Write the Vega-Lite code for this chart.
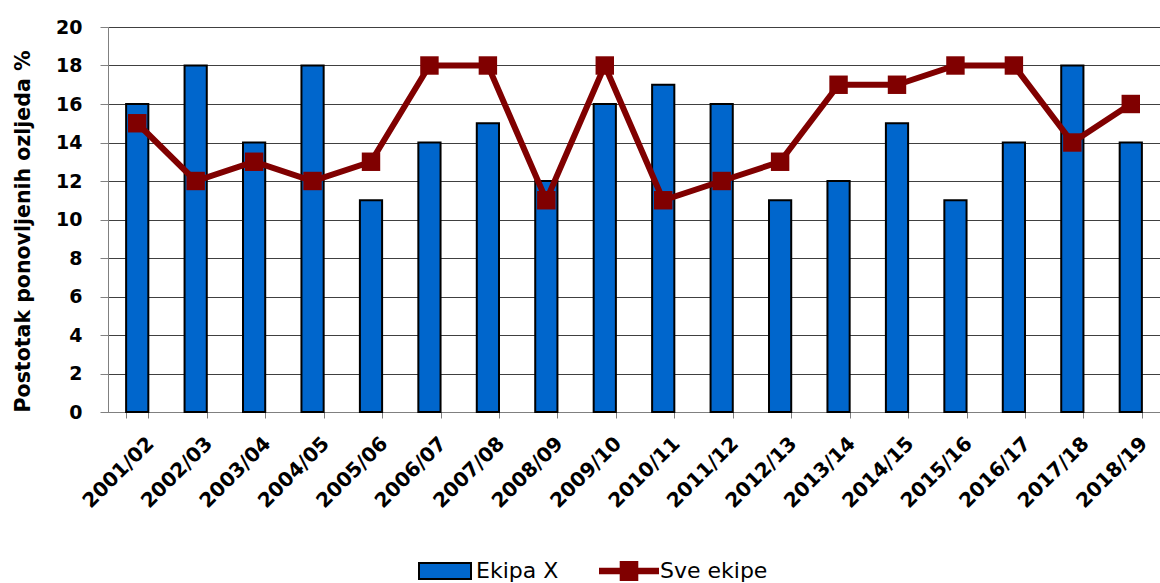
{
  "$schema": "https://vega.github.io/schema/vega-lite/v6.json",
  "width": 1052,
  "height": 385,
  "autosize": {"type": "none"},
  "padding": {"left": 108, "top": 27, "right": 0, "bottom": 171},
  "background": "white",
  "config": {"view": {"stroke": null}, "font": "DejaVu Sans"},
  "data": {
    "values": [
      {"season": "2001/02", "ekipa": 16, "sve": 15},
      {"season": "2002/03", "ekipa": 18, "sve": 12},
      {"season": "2003/04", "ekipa": 14, "sve": 13},
      {"season": "2004/05", "ekipa": 18, "sve": 12},
      {"season": "2005/06", "ekipa": 11, "sve": 13},
      {"season": "2006/07", "ekipa": 14, "sve": 18},
      {"season": "2007/08", "ekipa": 15, "sve": 18},
      {"season": "2008/09", "ekipa": 12, "sve": 11},
      {"season": "2009/10", "ekipa": 16, "sve": 18},
      {"season": "2010/11", "ekipa": 17, "sve": 11},
      {"season": "2011/12", "ekipa": 16, "sve": 12},
      {"season": "2012/13", "ekipa": 11, "sve": 13},
      {"season": "2013/14", "ekipa": 12, "sve": 17},
      {"season": "2014/15", "ekipa": 15, "sve": 17},
      {"season": "2015/16", "ekipa": 11, "sve": 18},
      {"season": "2016/17", "ekipa": 14, "sve": 18},
      {"season": "2017/18", "ekipa": 18, "sve": 14},
      {"season": "2018/19", "ekipa": 14, "sve": 16}
    ]
  },
  "encoding": {
    "x": {
      "field": "season",
      "type": "nominal",
      "sort": null,
      "scale": {"paddingInner": 0.62, "paddingOuter": 0.31},
      "axis": {
        "title": null,
        "labelAngle": -45,
        "labelFontSize": 20,
        "labelFontWeight": "bold",
        "labelColor": "black",
        "labelOverlap": false,
        "tickBand": "extent",
        "tickSize": 6,
        "tickColor": "#808080",
        "domainColor": "#808080",
        "labelPadding": 15,
        "labelOffset": 6,
        "grid": false
      }
    },
    "y": {
      "type": "quantitative",
      "scale": {"domain": [0, 20]},
      "axis": {
        "title": "Postotak ponovljenih ozljeda %",
        "values": [0, 2, 4, 6, 8, 10, 12, 14, 16, 18, 20],
        "labelOverlap": false,
        "grid": true,
        "gridColor": "#404040",
        "gridWidth": 1,
        "tickSize": 8,
        "tickColor": "#808080",
        "domainColor": "#808080",
        "labelPadding": 18,
        "labelFontSize": 19,
        "labelFontWeight": "bold",
        "labelColor": "black",
        "titleFontSize": 20.5,
        "titleFontWeight": "bold",
        "titleColor": "black",
        "titleX": -85,
        "titleY": 204,
        "titleAngle": -90,
        "titleAlign": "center",
        "titleBaseline": "middle"
      }
    }
  },
  "layer": [
    {
      "mark": {"type": "bar", "stroke": "black", "strokeWidth": 2},
      "encoding": {
        "y": {"field": "ekipa"},
        "fill": {
          "datum": "Ekipa X",
          "scale": {"range": ["#0066CC"]},
          "legend": {
            "orient": "none",
            "legendX": 310,
            "legendY": 517,
            "title": null,
            "padding": 0,
            "symbolType": "M-1,-0.31H1V0.31H-1Z",
            "symbolSize": 2704,
            "symbolStrokeColor": "black",
            "symbolStrokeWidth": 2,
            "symbolOpacity": 1,
            "labelFont": "DejaVu Sans",
            "labelFontSize": 22,
            "labelColor": "black",
            "labelOffset": 4
          }
        }
      }
    },
    {
      "mark": {"type": "line", "strokeWidth": 6},
      "encoding": {
        "y": {"field": "sve"},
        "stroke": {
          "datum": "Sve ekipe",
          "scale": {"range": ["#800000"]},
          "legend": {
            "orient": "none",
            "legendX": 491,
            "legendY": 514,
            "title": null,
            "padding": 0,
            "symbolType": "M-1,-0.11H1V0.11H-1Z M-0.31,-0.33H0.31V0.33H-0.31Z",
            "symbolSize": 3600,
            "symbolFillColor": "#800000",
            "symbolStrokeWidth": 0,
            "symbolOpacity": 1,
            "labelFont": "DejaVu Sans",
            "labelFontSize": 22,
            "labelColor": "black",
            "labelOffset": 1,
            "encode": {"symbols": {"update": {"fill": {"value": "#800000"}, "strokeWidth": {"value": 0}}}}
          }
        }
      }
    },
    {
      "mark": {"type": "square", "size": 340, "color": "#800000", "opacity": 1, "filled": true},
      "encoding": {
        "y": {"field": "sve"}
      }
    }
  ]
}
